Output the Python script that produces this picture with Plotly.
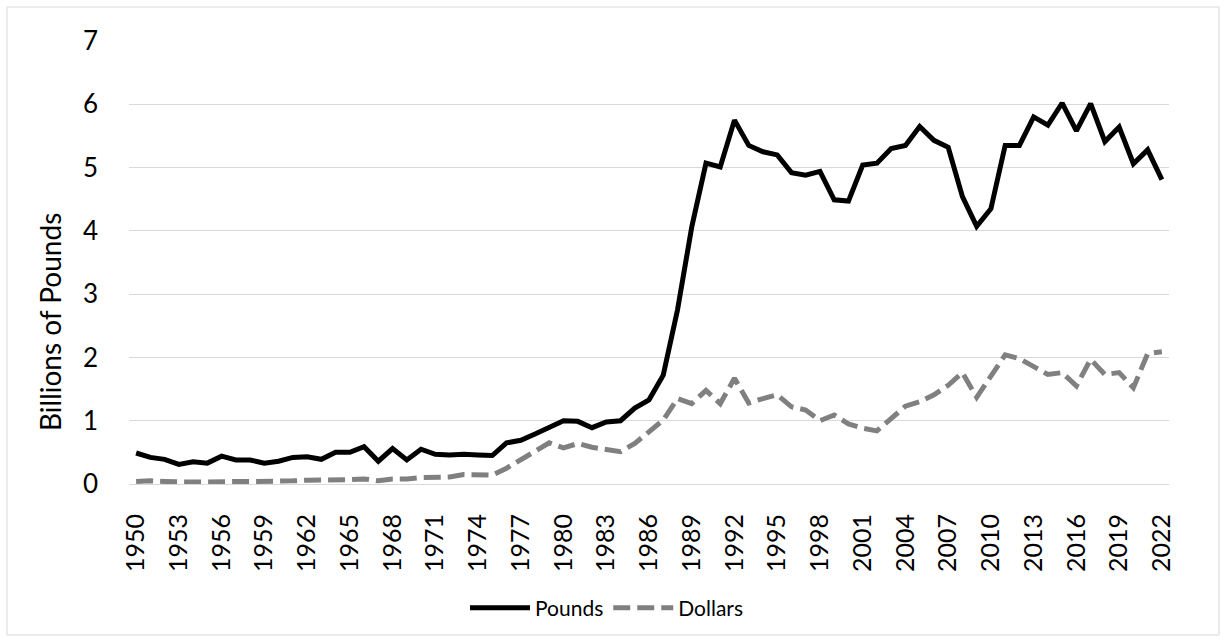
import plotly.graph_objects as go

years = list(range(1950, 2023))
pounds = [0.49, 0.42, 0.39, 0.31, 0.35, 0.33, 0.44, 0.38, 0.38, 0.33,
          0.36, 0.42, 0.43, 0.39, 0.50, 0.50, 0.59, 0.36, 0.56, 0.38,
          0.55, 0.47, 0.46, 0.47, 0.46, 0.45, 0.65, 0.69, 0.79, 0.90,
          1.00, 0.99, 0.89, 0.98, 1.00, 1.20, 1.33, 1.72, 2.75, 4.06,
          5.07, 5.01, 5.75, 5.35, 5.25, 5.20, 4.92, 4.88, 4.94, 4.49,
          4.47, 5.04, 5.07, 5.30, 5.35, 5.65, 5.43, 5.32, 4.54, 4.07,
          4.35, 5.35, 5.35, 5.80, 5.67, 6.02, 5.58, 6.01, 5.41, 5.64,
          5.06, 5.28, 4.81]
dollars = [0.04, 0.05, 0.04, 0.03, 0.03, 0.03, 0.04, 0.04, 0.04, 0.04,
           0.05, 0.05, 0.06, 0.06, 0.07, 0.07, 0.08, 0.05, 0.08, 0.08,
           0.10, 0.10, 0.11, 0.15, 0.15, 0.14, 0.25, 0.38, 0.51, 0.65,
           0.57, 0.64, 0.58, 0.55, 0.51, 0.64, 0.83, 1.01, 1.35, 1.27,
           1.48, 1.27, 1.67, 1.28, 1.35, 1.41, 1.22, 1.17, 1.00, 1.09,
           0.95, 0.88, 0.84, 1.04, 1.23, 1.30, 1.41, 1.56, 1.76, 1.37,
           1.69, 2.04, 1.98, 1.86, 1.73, 1.76, 1.55, 1.97, 1.73, 1.76,
           1.52, 2.06, 2.09]
tick_years = years[::3]
y_ticks = [0, 1, 2, 3, 4, 5, 6, 7]

W, H = 1226, 642
L, R, T, B = 129, 57, 41, 158
pw = W - L - R
ph = H - T - B


def px_x(p):
    return (p - L) / pw


def px_y(p):
    return (T + ph - p) / ph


fig = go.Figure()
fig.add_trace(go.Scatter(x=years, y=pounds, name="Pounds", mode="lines",
                         line=dict(color="#000000", width=5)))
fig.add_trace(go.Scatter(x=years, y=dollars, name="Dollars", mode="lines",
                         line=dict(color="#808080", width=5, dash="17px,7px")))

# outer chart border
fig.add_shape(type="rect", xref="paper", yref="paper",
              x0=px_x(7), x1=px_x(1219), y0=px_y(635), y1=px_y(7),
              line=dict(color="#d9d9d9", width=1), fillcolor="rgba(0,0,0,0)",
              layer="below")

# y-axis title (Excel centres it lower than the plot centre)
fig.add_annotation(text="Billions of Pounds", xref="paper", yref="paper",
                   x=px_x(50), y=px_y(322), xanchor="center", yanchor="middle",
                   textangle=-90, showarrow=False,
                   font=dict(size=28, color="#000000"))

fig.update_layout(
    width=W, height=H,
    margin=dict(l=L, r=R, t=T, b=B, autoexpand=False),
    paper_bgcolor="white", plot_bgcolor="white",
    font=dict(family="Lato, 'Open Sans', sans-serif", color="#000000"),
    showlegend=True,
    legend=dict(orientation="h", x=px_x(607), xanchor="center",
                y=px_y(608), yanchor="middle",
                font=dict(size=21, color="#000000"), itemwidth=60),
    xaxis=dict(range=[1949.5, 2022.5], tickmode="array", tickvals=tick_years,
               ticktext=[str(v) for v in tick_years], tickangle=-90,
               tickfont=dict(size=25), showgrid=False, showline=True,
               linecolor="#d9d9d9", linewidth=1, ticks="", zeroline=False,
               ticklabelstandoff=19),
    yaxis=dict(range=[0, 7], tickmode="array", tickvals=y_ticks,
               tickfont=dict(size=26), showgrid=True, gridcolor="#d9d9d9",
               gridwidth=1, zeroline=False, showline=False, ticks="",
               ticklabelstandoff=30),
)

fig.write_html("out.html", post_script="document.body.style.margin='0';",
               config={"displayModeBar": False})
